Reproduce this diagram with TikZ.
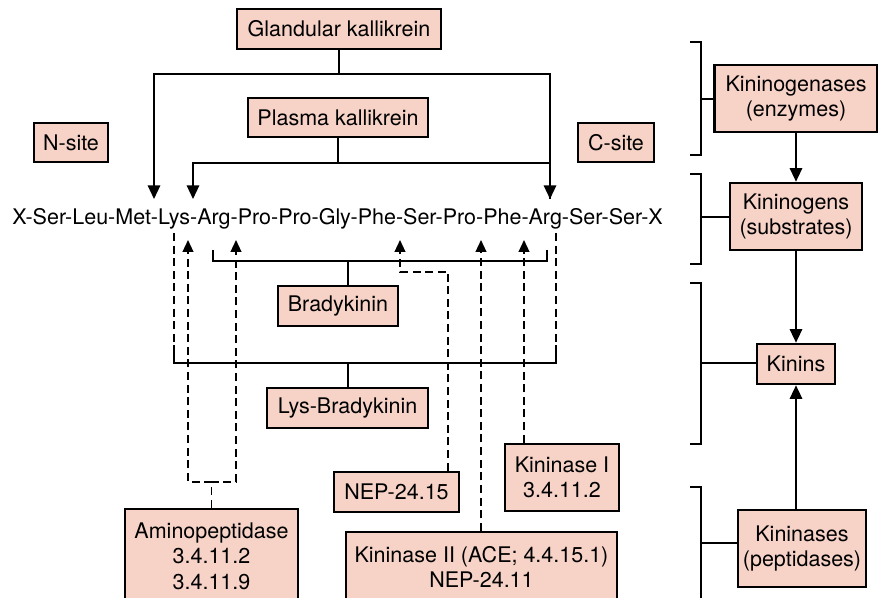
\documentclass[tikz,border=0pt]{standalone}
\usepackage{fontspec}
\setmainfont{TeX Gyre Heros}
\usetikzlibrary{arrows.meta}
\usetikzlibrary{calc}
\definecolor{kpink}{RGB}{247,211,199}
\tikzset{
box/.style={
	rectangle,
	draw=black,
	line width=1.3pt,
	fill=kpink,
	text centered,
	align=center,
	inner sep=2pt
},
line/.style={
	draw=black,
	line width=0.95pt
},
arrow/.style={
	line,
	-{Triangle[length=6.8pt,width=6.2pt]}
},
dashline/.style={
	draw=black,
	line width=0.9pt,
	dash pattern=on 4pt off 2.3pt
},
dasharrow/.style={
	dashline,
	-{Triangle[length=6pt,width=5.4pt]}
}
}

\begin{document}
\begin{tikzpicture}[x=0.5pt, y=-0.5pt, font=\fontsize{10.75}{12.7}\selectfont]
\useasboundingbox (0,0) rectangle (878,598);
\clip (0,0) rectangle (878,598);
% ===== Kininogenases (top) =====
\node (gland)    [box, minimum width=102pt, minimum height=20pt]   at (339, 29)    {Glandular kallikrein};
\node (plasma)   [box, minimum width=90pt, minimum height=19.5pt]  at (338, 117.5) {Plasma kallikrein};
\node (nsite)    [box, minimum width=37pt, minimum height=19.5pt]  at (71, 142.5)  {N-site};
\node (csite)    [box, minimum width=38pt, minimum height=19.5pt]  at (616, 142.5) {C-site};
% ===== Substrate sequence =====
\node (seq)      [anchor=base, inner sep=0pt]                      at (337.5, 225)
      {X-Ser-Leu-Met-Lys-Arg-Pro-Pro-Gly-Phe-Ser-Pro-Phe-Arg-Ser-Ser-X};
% ===== Kinins =====
\node (brady)    [box, minimum width=60pt, minimum height=20pt]    at (338, 306)   {Bradykinin};
\node (lysbrady) [box, minimum width=80.5pt, minimum height=20pt]  at (347.5, 408) {Lys-Bradykinin};
% ===== Kininases (bottom) =====
\node (nep)      [box, minimum width=62.5pt, minimum height=20pt]  at (396.5, 492) {NEP-24.15};
\node (kinI)     [box, minimum width=57pt, minimum height=33.5pt]  at (562, 477.5) {Kininase I\\3.4.11.2};
\node (kinII)    [box, minimum width=135.5pt, minimum height=35pt] at (481.5, 567) {Kininase II (ACE; 4.4.15.1)\\NEP-24.11};
\node (amino)    [box, minimum width=86.5pt, minimum height=47pt]  at (211.5, 556) {Aminopeptidase\\3.4.11.2\\3.4.11.9};
% ===== Overview column (right) =====
\node (kgenase)  [box, minimum width=81.5pt, minimum height=33.5pt] at (796, 98.5)   {Kininogenases\\(enzymes)};
\node (kgen)     [box, minimum width=66pt, minimum height=33.5pt]   at (796, 216.5)  {Kininogens\\(substrates)};
\node (kinins)   [box, minimum width=39pt, minimum height=20pt]     at (796, 364)    {Kinins};
\node (kinase)   [box, minimum width=64pt, minimum height=38.5pt]   at (802, 548.5)  {Kininases\\(peptidases)};

% cleavage points on the sequence
\coordinate (dMetLys) at (154, 199);
\coordinate (dLysArg) at (193, 199);
\coordinate (dArgSer) at (550, 199);
\coordinate (uLysArg) at (188, 240);
\coordinate (uArgPro) at (236, 240);
\coordinate (uPheSer) at (400, 240);
\coordinate (uProPhe) at (481, 240);
\coordinate (uPheArg) at (524, 240);

% ===== Kallikrein arrows =====
\draw [arrow] (gland.south)  -- ++(0,24) -| (dMetLys);
\draw [arrow] (gland.south)  -- ++(0,24) -| (dArgSer);
\draw [arrow] (plasma.south) -- ++(0,25) -| (dLysArg);
\draw [line]  (plasma.south) -- ++(0,25) -| (dArgSer);

% Bradykinin bracket
\coordinate (bkStem) at (348, 261);
\draw [line] (213,250) |- (bkStem) -| (547,250);
\draw [line] (bkStem) -- (bkStem |- brady.north);
% Lys-Bradykinin bracket, dashed up to the sequence
\coordinate (lbStem) at (348, 363);
\draw [line] (174,345) |- (lbStem) -| (556,345);
\draw [dashline] (174,233) -- (174,345);
\draw [dashline] (556,233) -- (556,345);
\draw [line] (lbStem) -- (lbStem |- lysbrady.north);

% ===== Kininase cuts (dashed) =====
\draw [dasharrow] (amino.north) -- ++(0,-26) -| (uLysArg);
\draw [dasharrow] (amino.north) -- ++(0,-26) -| (uArgPro);
\draw [dasharrow] ($(nep.north east)+(-12,0)$) -- ++(0,-199) -| (uPheSer);
\draw [dasharrow] (uProPhe |- kinII.north) -- (uProPhe);
\draw [dasharrow] (uPheArg |- kinI.north)  -- (uPheArg);

% ===== Right brackets =====
\coordinate (brA) at (701, 99);
\coordinate (brB) at (701, 217);
\coordinate (brC) at (701, 363);
\coordinate (brD) at (701, 543);
\draw [line] (690,42)  -| (701,155) -- (690,155);
\draw [line] (690,174) -| (701,264) -- (690,264);
\draw [line] (690,283) -| (701,444) -- (690,444);
\draw [line] (690,487) -| (701,620);
\draw [line] (brA) -- (brA -| kgenase.west);
\draw [line] (brB) -- (brB -| kgen.west);
\draw [line] (brC) -- (brC -| kinins.west);
\draw [line] (brD) -- (brD -| kinase.west);

\draw [arrow] (kgenase.south) -- (kgenase.south |- kgen.north);
\draw [arrow] (kgen.south)    -- (kgen.south |- kinins.north);
\draw [arrow] (kinins.south |- kinase.north) -- (kinins.south);

\end{tikzpicture}
\end{document}
